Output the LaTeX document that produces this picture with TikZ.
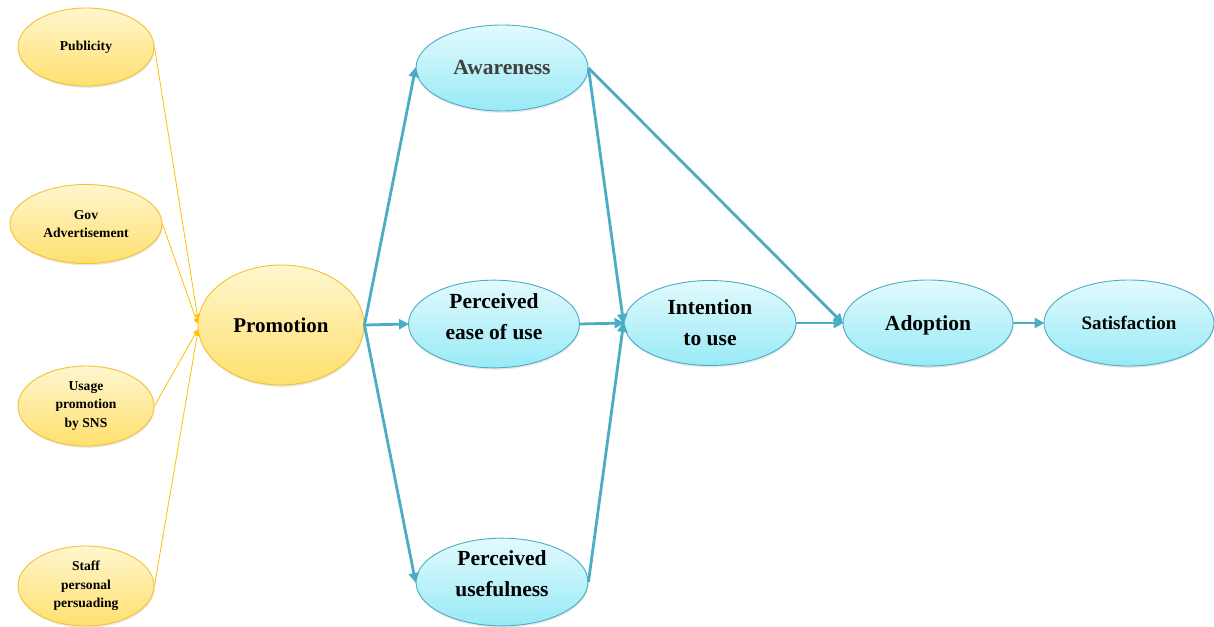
\documentclass[tikz,border=0pt]{standalone}
\usepackage{fontspec}
\setmainfont{Liberation Serif}
\usetikzlibrary{shapes.geometric,arrows.meta,shadows}

\definecolor{ylwline}{HTML}{FFC000}
\definecolor{ylwedge}{HTML}{F2C232}
\definecolor{ylwtop}{HTML}{FFF6CF}
\definecolor{ylwbot}{HTML}{FFE06E}
\definecolor{blueline}{HTML}{4BACC6}
\definecolor{bluetop}{HTML}{E2FAFD}
\definecolor{bluebot}{HTML}{98EAF6}
\definecolor{greytext}{HTML}{404040}

% shift text vertically without changing the size of its box
\newcommand{\nudged}[2]{\raisebox{#1}[\height][\depth]{#2}}
% two centred lines, shifted vertically
\newcommand{\liftedpair}[3]{\nudged{#1}{\begin{tabular}{@{}c@{}}#2\\#3\end{tabular}}}

\tikzset{
  factor/.style={ellipse, draw=ylwedge, line width=0.9pt, top color=ylwtop, bottom color=ylwbot,
    inner sep=0pt, align=center, font=\bfseries\fontsize{13.6}{18.5}\selectfont,
    drop shadow={opacity=0.18, shadow xshift=0.6pt, shadow yshift=-1.8pt}},
  construct/.style={ellipse, draw=blueline, line width=0.9pt, top color=bluetop, bottom color=bluebot,
    inner sep=0pt, align=center, font=\bfseries\fontsize{21.5}{31}\selectfont,
    drop shadow={opacity=0.18, shadow xshift=0.6pt, shadow yshift=-1.8pt}},
  thinarrow/.style={draw=ylwline, line width=0.8pt, -{Triangle[length=5pt,width=5pt]}},
  thickarrow/.style={draw=blueline, line width=2.8pt, -{Triangle[length=10pt,width=10pt]}, shorten >=-1pt},
}

\begin{document}
\begin{tikzpicture}[x=1pt,y=-1pt]
\useasboundingbox (0,0) rectangle (1214,626);

% promotion channels
\node[factor, minimum width=136pt, minimum height=78pt] (pub) at (86,47) {Publicity};
\node[factor, minimum width=152pt, minimum height=79pt] (gov) at (86,224) {Gov\\Advertisement};
\node[factor, minimum width=136pt, minimum height=80pt] (sns) at (86,406) {Usage\\promotion\\by SNS};
\node[factor, minimum width=136pt, minimum height=80pt] (staff) at (86,586) {Staff\\personal\\persuading};

% central promotion node
\node[factor, minimum width=166pt, minimum height=120pt, font=\bfseries\fontsize{21}{26}\selectfont] (prom) at (281,325) {Promotion};

% acceptance constructs
\node[construct, minimum width=172pt, minimum height=86pt, text=greytext] (aware) at (502,68) {Awareness};
\node[construct, minimum width=171pt, minimum height=84pt] (ease) at (494,324) {\liftedpair{6.5pt}{Perceived}{ease of use}};
\node[construct, minimum width=172pt, minimum height=86pt] (useful) at (502,582) {\liftedpair{7pt}{Perceived}{usefulness}};
\node[construct, minimum width=172pt, minimum height=85pt] (intent) at (710,323) {Intention\\to use};
\node[construct, minimum width=170pt, minimum height=86pt] (adopt) at (928,323) {\nudged{-2pt}{Adoption}};
\node[construct, minimum width=170pt, minimum height=86pt, font=\bfseries\fontsize{19}{22}\selectfont] (satis) at (1129,323) {Satisfaction};

% channels into promotion
\draw[thinarrow] (pub.east) -- (prom.176);
\draw[thinarrow] (gov.east) -- (prom.179);
\draw[thinarrow] (sns.east) -- (prom.183);
\draw[thinarrow] (staff.east) -- (prom.184);

% promotion to perceptions
\draw[thickarrow] (prom.east) -- (aware.west);
\draw[thickarrow] (prom.east) -- (ease.west);
\draw[thickarrow] (prom.east) -- (useful.west);

% perceptions to intention and adoption
\draw[thickarrow] (aware.east) -- (intent.west);
\draw[thickarrow] (aware.east) -- (adopt.west);
\draw[thickarrow] (ease.east) -- (intent.west);
\draw[thickarrow] (useful.east) -- (intent.west);
\draw[thickarrow] (intent.east) -- (adopt.west);
\draw[thickarrow] (adopt.east) -- (satis.west);
\end{tikzpicture}
\end{document}
